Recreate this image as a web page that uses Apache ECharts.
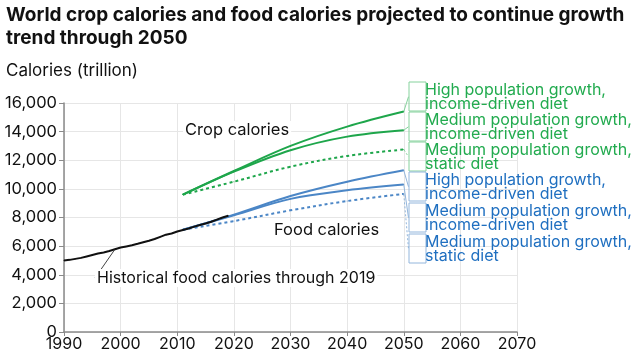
<!DOCTYPE html>
<html><head><meta charset="utf-8">
<script src="https://cdn.jsdelivr.net/npm/echarts@6/dist/echarts.min.js"></script>
<style>html,body{margin:0;padding:0;background:#fff}#c{width:640px;height:357px}</style>
</head><body><div id="c"></div>
<script>
// ---- data ----
const histYears = [1990,1991,1992,1993,1994,1995,1996,1997,1998,1999,2000,2001,2002,2003,2004,2005,2006,2007,2008,2009,2010,2011,2012,2013,2014,2015,2016,2017,2018,2019];
const histFood  = [5000,5040,5110,5180,5280,5380,5480,5560,5660,5780,5900,5980,6060,6160,6270,6380,6500,6650,6800,6880,7020,7130,7230,7360,7480,7580,7700,7850,8000,8120];
const projYears = [2011, 2020, 2030, 2040, 2050];
const cropHighIncome = [9600, 11250, 13000, 14350, 15400];
const cropMedIncome  = [9600, 11200, 12700, 13650, 14100];
const cropMedStatic  = [9600, 10500, 11550, 12300, 12750];
const foodHighIncome = [7150, 8200, 9500, 10500, 11300];
const foodMedIncome  = [7150, 8150, 9300, 9900, 10300];
const foodMedStatic  = [7150, 7750, 8500, 9150, 9650];
const scenarioNames = [
  'High population growth,\nincome-driven diet',
  'Medium population growth,\nincome-driven diet',
  'Medium population growth,\nstatic diet',
  'High population growth,\nincome-driven diet',
  'Medium population growth,\nincome-driven diet',
  'Medium population growth,\nstatic diet'
];
const historicalLabel = 'Historical food calories through 2019';
const cropLabel = 'Crop calories';
const foodLabel = 'Food calories';
const titleText = 'World crop calories and food calories projected to continue growth\ntrend through 2050';
const yAxisTitle = 'Calories (trillion)';

// ---- styles / layout ----
const GREEN = '#1ea64b', BLUE = '#4b86c6';
const GREEN_TXT = '#22ab4f', BLUE_TXT = '#1f6fc0';
const GREEN_BOX = '#86d29d', BLUE_BOX = '#93b6dc';
const labelTops = [82, 112, 142, 172, 203, 234];
const FONT = 'Inter';

const projSets = [
  [cropHighIncome, GREEN, 'solid', GREEN_TXT, GREEN_BOX],
  [cropMedIncome,  GREEN, 'solid', GREEN_TXT, GREEN_BOX],
  [cropMedStatic,  GREEN, [3,3],   GREEN_TXT, GREEN_BOX],
  [foodHighIncome, BLUE,  'solid', BLUE_TXT,  BLUE_BOX],
  [foodMedIncome,  BLUE,  'solid', BLUE_TXT,  BLUE_BOX],
  [foodMedStatic,  BLUE,  [3,3],   BLUE_TXT,  BLUE_BOX]
];

const series = [];
projSets.forEach(function (s, i) {
  const vals = s[0];
  const data = projYears.map(function (y, k) {
    const item = { value: [y, vals[k]] };
    if (k === projYears.length - 1) {
      item.label = {
        show: true,
        formatter: scenarioNames[i],
        color: s[3], fontFamily: FONT, fontSize: 16, lineHeight: 14,
        width: 1, padding: [1, 0, 0, 16],
        borderColor: s[4], borderWidth: 1
      };
    }
    return item;
  });
  series.push({
    type: 'line', name: 'p' + i, data: data, smooth: 0.35,
    showSymbol: true, showAllSymbol: true, symbol: 'circle', symbolSize: 1,
    lineStyle: { color: s[1], width: 2, type: s[2] },
    itemStyle: { color: s[1] },
    label: { show: false },
    labelLine: { show: true, lineStyle: { color: s[4], width: 1, type: s[2] === 'solid' ? 'solid' : [2, 2] } },
    labelLayout: function () {
      return { x: 409, y: labelTops[i], align: 'left', verticalAlign: 'top' };
    },
    silent: true, z: 3
  });
});

series.push({
  type: 'line', name: 'hist',
  showSymbol: true, showAllSymbol: true, symbol: 'circle', symbolSize: 1,
  data: histYears.map(function (y, k) {
    const item = { value: [y, histFood[k]] };
    if (y === 1999) {
      item.label = { show: true, formatter: historicalLabel, color: '#111', fontFamily: FONT, fontSize: 16,
        backgroundColor: '#fff', padding: [1, 2] };
    }
    return item;
  }),
  lineStyle: { color: '#111', width: 2 },
  itemStyle: { color: '#111' },
  label: { show: false },
  labelLine: { show: true, lineStyle: { color: '#444', width: 1 } },
  labelLayout: function () { return { x: 95, y: 269, align: 'left', verticalAlign: 'top' }; },
  silent: true, z: 4
});

const chart = echarts.init(document.getElementById('c'), null, { renderer: 'canvas' });
chart.setOption({
  animation: false,
  backgroundColor: '#fff',
  textStyle: { fontFamily: FONT },
  title: {
    left: 6, top: 4, itemGap: 11, padding: 0,
    text: titleText,
    textStyle: { fontFamily: FONT, fontSize: 19, fontWeight: 'bold', color: '#111', lineHeight: 23 },
    subtext: yAxisTitle,
    subtextStyle: { fontFamily: FONT, fontSize: 17, color: '#111', lineHeight: 20 }
  },
  grid: { left: 64, right: 123, top: 103, bottom: 25, containLabel: false },
  xAxis: {
    type: 'value', min: 1990, max: 2070, interval: 10,
    axisLine: { show: true, lineStyle: { color: '#8a8a8a', width: 1.5 } },
    axisTick: { show: true, length: 4, lineStyle: { color: '#8a8a8a' } },
    axisLabel: { color: '#111', fontSize: 16, fontFamily: FONT, margin: 4, formatter: function (v) { return String(v); } },
    splitLine: { show: true, lineStyle: { color: '#e6e6e6' } }
  },
  yAxis: {
    type: 'value', min: 0, max: 16000, interval: 2000,
    axisLine: { show: true, lineStyle: { color: '#8a8a8a', width: 1.5 } },
    axisTick: { show: true, length: 5, lineStyle: { color: '#8a8a8a' } },
    axisLabel: { color: '#111', fontSize: 16.5, fontFamily: FONT, margin: 7 },
    splitLine: { show: true, lineStyle: { color: '#e6e6e6' } }
  },
  graphic: [
    { type: 'text', left: 183, top: 121, z: 10, style: { text: cropLabel, fill: '#111', font: '16.5px ' + FONT, backgroundColor: '#fff', padding: [1, 2] } },
    { type: 'text', left: 272, top: 221, z: 10, style: { text: foodLabel, fill: '#111', font: '16.5px ' + FONT, backgroundColor: '#fff', padding: [1, 2] } }
  ],
  series: series
});
</script></body></html>
